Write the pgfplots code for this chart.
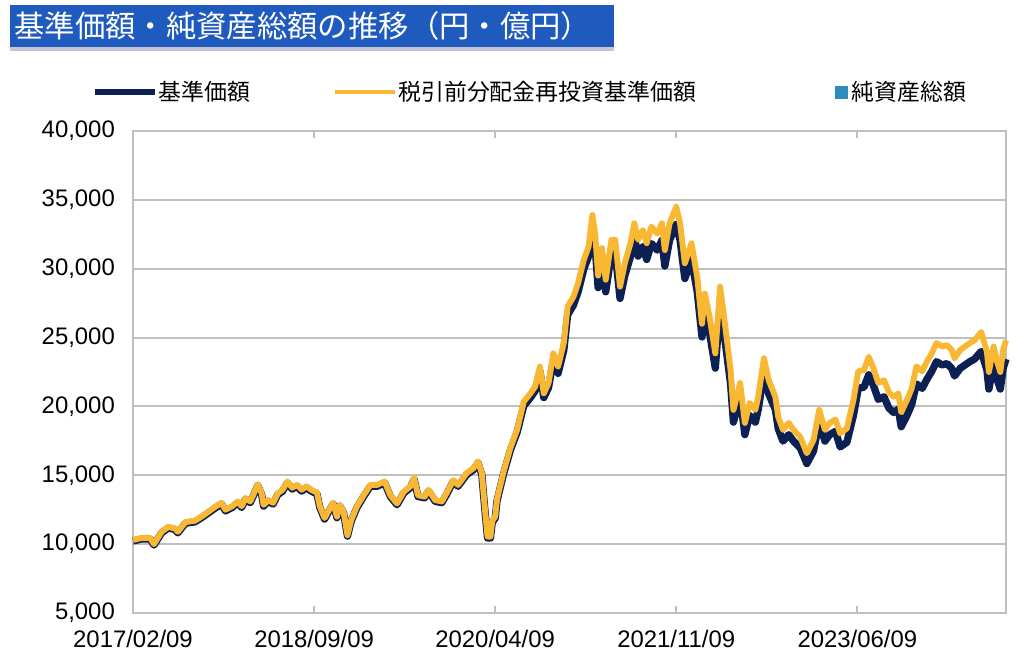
\documentclass[border=0pt]{standalone}
\usepackage{pgfplots}
\pgfplotsset{compat=1.18}
\usepackage{fontspec}
\setmainfont{Liberation Sans}
\newfontfamily\jp{Noto Sans CJK JP}

\definecolor{barblue}{RGB}{31,90,190}
\definecolor{navyline}{RGB}{12,32,84}
\definecolor{goldline}{RGB}{249,184,52}
\definecolor{navsq}{RGB}{46,139,192}
\definecolor{gridgray}{RGB}{191,191,191}

\begin{document}
\begin{tikzpicture}
  % 1px = 0.025cm, picture is 1024 x 656 px
  \useasboundingbox (0,0) rectangle (25.6,16.4);

  % title bar
  \fill[blue!15!gray!40] (0.25,15.12) rectangle (15.35,15.23);
  \fill[barblue] (0.25,15.225) rectangle (15.35,16.275);
  \node[anchor=west, text=white, inner sep=0pt, font=\jp\fontsize{21.6}{24}\selectfont]
    at (0.35,15.76) {基準価額・純資産総額の推移（円・億円）};

  % legend
  \draw[navyline, line width=4.5pt] (2.375,14.1) -- (3.875,14.1);
  \node[anchor=west, inner sep=0pt, font=\jp\fontsize{16.3}{19}\selectfont] at (3.95,14.1) {基準価額};
  \draw[goldline, line width=3.5pt] (8.375,14.1) -- (9.875,14.1);
  \node[anchor=west, inner sep=0pt, font=\jp\fontsize{16.3}{19}\selectfont] at (9.95,14.1) {税引前分配金再投資基準価額};
  \fill[navsq] (20.875,13.93) rectangle (21.2,14.255);
  \node[anchor=west, inner sep=0pt, font=\jp\fontsize{16.3}{19}\selectfont] at (21.28,14.1) {純資産総額};

  \begin{axis}[
    at={(3.325cm,1.075cm)}, anchor=south west,
    scale only axis,
    width=21.825cm, height=12.05cm,
    xmin=0, xmax=91.6,
    ymin=5000, ymax=40000,
    ytick={5000,10000,...,40000},
    xtick={0,19,38,57,76},
    xticklabels={2017/02/09,2018/09/09,2020/04/09,2021/11/09,2023/06/09},
    scaled y ticks=false,
    /pgf/number format/.cd, 1000 sep={,}, assume math mode=true,
    /pgfplots/.cd,
    ymajorgrids=true,
    grid style={gridgray, line width=1.4pt},
    axis line style={gridgray, line width=1.8pt},
    tick align=inside,
    major tick length=0.18cm,
    xtick style={gridgray, line width=1.4pt},
    ytick style={draw=none},
    ticklabel style={font=\fontsize{17}{20}\selectfont, text=black},
    yticklabel shift=0.33cm,
    xticklabel shift=0.3cm,
    clip=false,
  ]
    % 基準価額 (navy)
    \addplot[navyline, line width=5.2pt, line join=round] coordinates {
      (0,10230) (0.9,10380) (1.8,10380) (2.2,9930) (3.0,10820) (3.7,11170)
      (4.4,11070) (4.7,10820) (5.5,11520) (6.5,11620) (7.2,11920) (7.9,12260)
      (8.6,12610) (9.3,12910) (9.7,12410) (10.4,12660) (11.0,13010) (11.4,12660)
      (11.8,13260) (12.3,13010) (12.6,13460) (13.1,14250) (13.5,13600) (13.7,12760)
      (14.2,13110) (14.7,12910) (15.2,13600) (15.7,13850) (16.2,14450) (16.7,14000)
      (17.2,14200) (17.7,13850) (18.2,14100) (18.7,13850) (19.3,13650) (19.6,12660)
      (20.1,11820) (20.7,12560) (21.0,12910) (21.4,11920) (21.7,12760) (22.1,12260)
      (22.5,10580) (22.9,11670) (23.5,12660) (24.2,13460) (24.9,14200) (25.6,14200)
      (26.4,14450) (27.0,13460) (27.7,12860) (28.4,13700) (29.1,14100) (29.5,14700)
      (29.9,13460) (30.6,13360) (31.0,13850) (31.7,13110) (32.4,13010) (32.9,13600)
      (33.6,14550) (34.1,14200) (35.0,15040) (35.7,15390) (36.2,15890) (36.6,15040)
      (36.9,12660) (37.2,10440) (37.5,10440) (37.7,11580) (38.0,11880) (38.2,13170)
      (38.9,15150) (39.6,16830) (40.3,18120) (41.0,20040) (41.7,20640) (42.2,21130)
      (42.7,22560) (43.1,20640) (43.6,21370) (44.1,23330) (44.6,22400) (45.2,24060)
      (45.6,26650) (46.2,27340) (46.7,28310) (47.3,29980) (47.8,30900) (48.2,32880)
      (48.5,31530) (48.8,28620) (49.2,30560) (49.6,28320) (50.2,31140) (50.6,31140)
      (51.1,27840) (51.6,29490) (52.2,30890) (52.6,32300) (53.0,30910) (53.5,31590)
      (53.9,30670) (54.4,31830) (55.0,31350) (55.5,32070) (55.8,30190) (56.3,32070)
      (57.0,33220) (57.4,32070) (57.9,29280) (58.6,30670) (59.2,28310) (59.7,25040)
      (60.0,26930) (60.5,25310) (61.1,22780) (61.6,27410) (62.1,24880) (62.7,21630)
      (63.0,18860) (63.7,20720) (64.2,17950) (64.7,19340) (65.3,18860) (65.6,19770)
      (66.2,22440) (66.7,20910) (67.4,19770) (67.7,18380) (68.2,17480) (68.8,17950)
      (69.3,17480) (70.0,17000) (70.7,15850) (71.4,16760) (72.0,18860) (72.6,17480)
      (73.1,17950) (73.7,18190) (74.2,17060) (74.9,17390) (75.6,19370) (76.1,21310)
      (76.7,21400) (77.2,22300) (77.7,21500) (78.2,20510) (78.8,20700) (79.3,19890)
      (79.8,19560) (80.3,19800) (80.6,18520) (81.2,19330) (81.7,20130) (82.2,21640)
      (82.8,21310) (83.3,21970) (83.8,22540) (84.3,23250) (84.9,23010) (85.4,23110)
      (85.9,22770) (86.2,22210) (86.8,22770) (87.3,23010) (87.8,23250) (88.3,23440)
      (89.0,24000) (89.6,22630) (89.8,21260) (90.3,23010) (90.6,22110) (91.0,21260)
      (91.3,22770) (91.6,23440)
    };
    % 税引前分配金再投資基準価額 (gold)
    \addplot[goldline, line width=4.2pt, line join=round] coordinates {
      (0,10300) (0.9,10450) (1.8,10450) (2.2,10000) (3.0,10900) (3.7,11250)
      (4.4,11150) (4.7,10900) (5.5,11600) (6.5,11700) (7.2,12000) (7.9,12350)
      (8.6,12700) (9.3,13000) (9.7,12500) (10.4,12750) (11.0,13100) (11.4,12750)
      (11.8,13350) (12.3,13100) (12.6,13550) (13.1,14350) (13.5,13700) (13.7,12850)
      (14.2,13200) (14.7,13000) (15.2,13700) (15.7,13950) (16.2,14550) (16.7,14100)
      (17.2,14300) (17.7,13950) (18.2,14200) (18.7,13950) (19.3,13750) (19.6,12750)
      (20.1,11900) (20.7,12650) (21.0,13000) (21.4,12000) (21.7,12850) (22.1,12350)
      (22.5,10650) (22.9,11750) (23.5,12750) (24.2,13550) (24.9,14300) (25.6,14300)
      (26.4,14550) (27.0,13550) (27.7,12950) (28.4,13800) (29.1,14200) (29.5,14800)
      (29.9,13550) (30.6,13450) (31.0,13950) (31.7,13200) (32.4,13100) (32.9,13700)
      (33.6,14650) (34.1,14300) (35.0,15150) (35.7,15500) (36.2,16000) (36.6,15150)
      (36.9,12750) (37.2,10550) (37.5,10550) (37.7,11700) (38.0,12000) (38.2,13300)
      (38.9,15300) (39.6,17000) (40.3,18300) (41.0,20350) (41.7,20950) (42.2,21450)
      (42.7,22900) (43.1,20950) (43.6,21700) (44.1,23850) (44.6,22900) (45.2,24600)
      (45.6,27250) (46.2,27950) (46.7,28950) (47.3,30650) (47.8,31600) (48.2,33900)
      (48.5,32500) (48.8,29500) (49.2,31500) (49.6,29200) (50.2,32100) (50.6,32100)
      (51.1,28700) (51.6,30400) (52.2,31850) (52.6,33300) (53.0,32100) (53.5,32800)
      (53.9,31850) (54.4,33050) (55.0,32550) (55.5,33300) (55.8,31350) (56.3,33300)
      (57.0,34500) (57.4,33300) (57.9,30400) (58.6,31850) (59.2,29400) (59.7,26000)
      (60.0,28200) (60.5,26500) (61.1,23850) (61.6,28700) (62.1,26050) (62.7,22650)
      (63.0,19750) (63.7,21700) (64.2,18800) (64.7,20250) (65.3,19750) (65.6,20700)
      (66.2,23500) (66.7,21900) (67.4,20700) (67.7,19250) (68.2,18300) (68.8,18800)
      (69.3,18300) (70.0,17800) (70.7,16600) (71.4,17550) (72.0,19750) (72.6,18300)
      (73.1,18800) (73.7,19050) (74.2,18050) (74.9,18400) (75.6,20500) (76.1,22550)
      (76.7,22650) (77.2,23600) (77.7,22750) (78.2,21700) (78.8,21900) (79.3,21050)
      (79.8,20700) (80.3,20950) (80.6,19600) (81.2,20450) (81.7,21300) (82.2,22900)
      (82.8,22550) (83.3,23250) (83.8,23850) (84.3,24600) (84.9,24350) (85.4,24450)
      (85.9,24100) (86.2,23500) (86.8,24100) (87.3,24350) (87.8,24600) (88.3,24800)
      (89.0,25400) (89.6,23950) (89.8,22500) (90.3,24350) (90.6,23400) (91.0,22500)
      (91.3,24100) (91.6,24800)
    };
  \end{axis}
\end{tikzpicture}
\end{document}
